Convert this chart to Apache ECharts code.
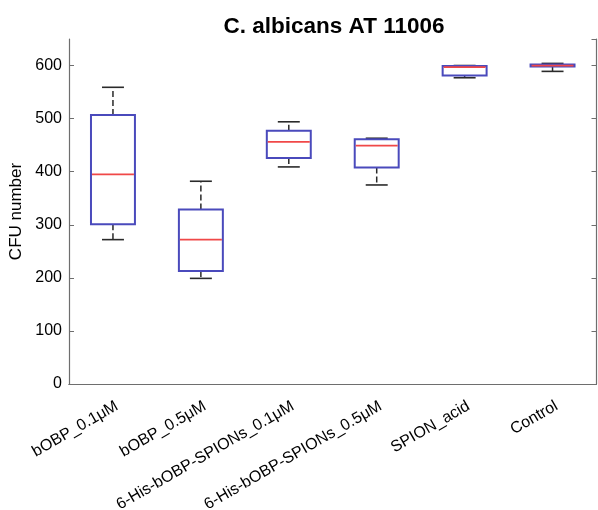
<!DOCTYPE html>
<html>
<head>
<meta charset="utf-8">
<script src="https://cdn.jsdelivr.net/npm/echarts@6/dist/echarts.min.js"></script>
<style>html,body{margin:0;padding:0;background:#fff}#c{width:598px;height:510px}</style>
</head>
<body>
<div id="c"></div>
<script>
const categories = ['bOBP_0.1\u03bcM', 'bOBP_0.5\u03bcM', '6-His-bOBP-SPIONs_0.1\u03bcM', '6-His-bOBP-SPIONs_0.5\u03bcM', 'SPION_acid', 'Control'];
const lowerWhisker = [272, 199, 409, 375, 577, 589];
const q1Values     = [301, 213, 426, 408, 581, 598];
const medianValues = [395, 272, 456, 449, 597, 600];
const q3Values     = [507, 329, 477, 461, 599, 602];
const upperWhisker = [559, 382, 494, 463, 600, 604];
const yTicks = [0, 100, 200, 300, 400, 500, 600];

const FONT = '"Liberation Sans", Arial, Helvetica, sans-serif';
const AXIS_COLOR = '#6e6e6e';
const BOX_COLOR = '#4a4abc';
const MEDIAN_COLOR = '#f04848';
const WHISKER_COLOR = '#2a2a2a';

const boxData = categories.map((c, i) => [i, lowerWhisker[i], q1Values[i], medianValues[i], q3Values[i], upperWhisker[i]]);

function renderBox(params, api) {
  const x = api.value(0);
  const band = api.size([1, 0])[0];
  const bw = band * 0.5, cw = band * 0.25;
  const pLow = api.coord([x, api.value(1)]);
  const pQ1 = api.coord([x, api.value(2)]);
  const pMed = api.coord([x, api.value(3)]);
  const pQ3 = api.coord([x, api.value(4)]);
  const pHigh = api.coord([x, api.value(5)]);
  const cx = pMed[0];
  const dashStyle = {stroke: WHISKER_COLOR, lineWidth: 1.5, lineDash: [6, 3]};
  const capStyle = {stroke: WHISKER_COLOR, lineWidth: 1.6};
  return {
    type: 'group',
    children: [
      {type: 'line', shape: {x1: cx, y1: pQ3[1], x2: cx, y2: pHigh[1]}, style: dashStyle},
      {type: 'line', shape: {x1: cx, y1: pQ1[1], x2: cx, y2: pLow[1]}, style: dashStyle},
      {type: 'line', shape: {x1: cx - cw / 2, y1: pHigh[1], x2: cx + cw / 2, y2: pHigh[1]}, style: capStyle},
      {type: 'line', shape: {x1: cx - cw / 2, y1: pLow[1], x2: cx + cw / 2, y2: pLow[1]}, style: capStyle},
      {type: 'rect', shape: {x: cx - bw / 2, y: pQ3[1], width: bw, height: pQ1[1] - pQ3[1]},
        style: {fill: 'none', stroke: BOX_COLOR, lineWidth: 2}},
      {type: 'line', shape: {x1: cx - bw / 2 + 1, y1: pMed[1], x2: cx + bw / 2 - 1, y2: pMed[1]},
        style: {stroke: MEDIAN_COLOR, lineWidth: 1.8}}
    ]
  };
}

const chart = echarts.init(document.getElementById('c'), null, {renderer: 'canvas'});
chart.setOption({
  animation: false,
  backgroundColor: '#fff',
  title: {
    text: 'C. albicans AT 11006',
    left: 329, textAlign: 'center', top: 10,
    textStyle: {fontFamily: FONT, fontSize: 22.5, fontWeight: 'bold', color: '#000'}
  },
  grid: {left: 69, right: 1.5, top: 39, bottom: 126, containLabel: false, outerBoundsMode: 'none'},
  xAxis: [{
    type: 'category', data: categories, boundaryGap: true,
    axisLine: {lineStyle: {color: AXIS_COLOR, width: 1.2}},
    axisTick: {inside: true, alignWithLabel: true, length: 5, lineStyle: {color: AXIS_COLOR}},
    axisLabel: {rotate: 30, margin: 14, verticalAlign: 'top', fontFamily: FONT, fontSize: 16, color: '#000', interval: 0},
    splitLine: {show: false}
  }, {
    type: 'category', data: categories, boundaryGap: true, position: 'top',
    axisLine: {lineStyle: {color: AXIS_COLOR, width: 1.2}},
    axisTick: {inside: true, alignWithLabel: true, length: 5, lineStyle: {color: AXIS_COLOR}},
    axisLabel: {show: false}, splitLine: {show: false}
  }],
  yAxis: [{
    type: 'value', min: 0, max: 650, interval: 100,
    name: 'CFU number', nameLocation: 'middle', nameGap: 37,
    nameTextStyle: {fontFamily: FONT, fontSize: 17, color: '#000'},
    axisLine: {show: true, lineStyle: {color: AXIS_COLOR, width: 1.2}},
    axisTick: {show: true, inside: true, length: 5, lineStyle: {color: AXIS_COLOR}},
    axisLabel: {margin: 7, fontFamily: FONT, fontSize: 16, color: '#000', showMaxLabel: false,
      formatter: v => yTicks.includes(v) ? String(v) : ''},
    splitLine: {show: false}
  }, {
    type: 'value', min: 0, max: 650, interval: 100, position: 'right',
    axisLine: {show: true, lineStyle: {color: AXIS_COLOR, width: 1.2}},
    axisTick: {show: true, inside: true, length: 5, lineStyle: {color: AXIS_COLOR}},
    axisLabel: {show: false}, splitLine: {show: false}
  }],
  series: [{
    type: 'custom', xAxisIndex: 0, yAxisIndex: 0,
    renderItem: renderBox,
    encode: {x: 0, y: [1, 2, 3, 4, 5]},
    data: boxData
  }]
});
</script>
</body>
</html>
